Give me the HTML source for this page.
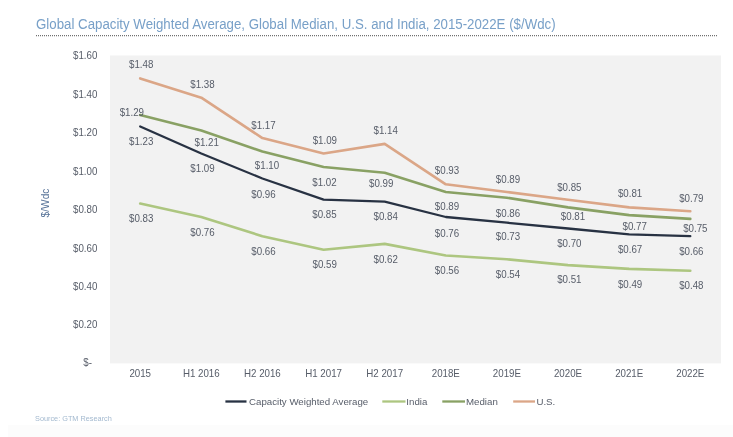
<!DOCTYPE html>
<html><head><meta charset="utf-8"><style>
html,body{margin:0;padding:0;background:#fff;width:733px;height:437px;overflow:hidden}
svg{display:block;will-change:transform;font-family:"Liberation Sans",sans-serif}
</style></head><body>
<svg width="733" height="437" viewBox="0 0 733 437">
<rect x="8" y="425" width="725" height="12" fill="#fcfcfc"/>
<rect x="110" y="55.5" width="611" height="307.9" fill="#f2f2f2"/>
<polyline points="140.2,203.5 201.3,217.0 262.4,236.2 323.6,249.7 384.7,243.9 445.8,255.5 506.9,259.3 568.0,265.1 629.2,268.9 690.3,270.8" fill="none" stroke="#adc680" stroke-width="2.6" stroke-linejoin="round" stroke-linecap="round"/>
<polyline points="140.2,115.0 201.3,130.4 262.4,151.6 323.6,167.0 384.7,172.7 445.8,192.0 506.9,197.7 568.0,207.4 629.2,215.1 690.3,218.9" fill="none" stroke="#89a164" stroke-width="2.6" stroke-linejoin="round" stroke-linecap="round"/>
<polyline points="140.2,78.4 201.3,97.7 262.4,138.1 323.6,153.5 384.7,143.9 445.8,184.3 506.9,192.0 568.0,199.7 629.2,207.4 690.3,211.2" fill="none" stroke="#dba687" stroke-width="2.6" stroke-linejoin="round" stroke-linecap="round"/>
<polyline points="140.2,126.5 201.3,153.5 262.4,178.5 323.6,199.7 384.7,201.6 445.8,217.0 506.9,222.7 568.0,228.5 629.2,234.3 690.3,236.2" fill="none" stroke="#283243" stroke-width="2.3" stroke-linejoin="round" stroke-linecap="round"/>
<g font-size="10.1" fill="#575d69">
<text transform="translate(141.2,67.6) scale(0.965,1)" text-anchor="middle">$1.48</text>
<text transform="translate(202.4,87.5) scale(0.965,1)" text-anchor="middle">$1.38</text>
<text transform="translate(263.4,128.5) scale(0.965,1)" text-anchor="middle">$1.17</text>
<text transform="translate(324.8,144.0) scale(0.965,1)" text-anchor="middle">$1.09</text>
<text transform="translate(385.7,134.2) scale(0.965,1)" text-anchor="middle">$1.14</text>
<text transform="translate(447.0,173.8) scale(0.965,1)" text-anchor="middle">$0.93</text>
<text transform="translate(508.0,182.6) scale(0.965,1)" text-anchor="middle">$0.89</text>
<text transform="translate(569.3,190.6) scale(0.965,1)" text-anchor="middle">$0.85</text>
<text transform="translate(630.1,196.5) scale(0.965,1)" text-anchor="middle">$0.81</text>
<text transform="translate(691.3,201.7) scale(0.965,1)" text-anchor="middle">$0.79</text>
<text transform="translate(131.8,116.1) scale(0.965,1)" text-anchor="middle">$1.29</text>
<text transform="translate(206.7,146.3) scale(0.965,1)" text-anchor="middle">$1.21</text>
<text transform="translate(267.0,169.2) scale(0.965,1)" text-anchor="middle">$1.10</text>
<text transform="translate(324.4,186.4) scale(0.965,1)" text-anchor="middle">$1.02</text>
<text transform="translate(381.2,186.8) scale(0.965,1)" text-anchor="middle">$0.99</text>
<text transform="translate(447.0,210.3) scale(0.965,1)" text-anchor="middle">$0.89</text>
<text transform="translate(508.0,216.5) scale(0.965,1)" text-anchor="middle">$0.86</text>
<text transform="translate(573.0,220.4) scale(0.965,1)" text-anchor="middle">$0.81</text>
<text transform="translate(634.7,229.7) scale(0.965,1)" text-anchor="middle">$0.77</text>
<text transform="translate(695.3,231.5) scale(0.965,1)" text-anchor="middle">$0.75</text>
<text transform="translate(141.2,145.4) scale(0.965,1)" text-anchor="middle">$1.23</text>
<text transform="translate(202.5,171.7) scale(0.965,1)" text-anchor="middle">$1.09</text>
<text transform="translate(263.4,197.8) scale(0.965,1)" text-anchor="middle">$0.96</text>
<text transform="translate(324.4,218.0) scale(0.965,1)" text-anchor="middle">$0.85</text>
<text transform="translate(385.7,219.5) scale(0.965,1)" text-anchor="middle">$0.84</text>
<text transform="translate(447.0,236.6) scale(0.965,1)" text-anchor="middle">$0.76</text>
<text transform="translate(508.0,240.3) scale(0.965,1)" text-anchor="middle">$0.73</text>
<text transform="translate(569.3,247.4) scale(0.965,1)" text-anchor="middle">$0.70</text>
<text transform="translate(630.1,252.6) scale(0.965,1)" text-anchor="middle">$0.67</text>
<text transform="translate(691.3,254.8) scale(0.965,1)" text-anchor="middle">$0.66</text>
<text transform="translate(141.2,221.6) scale(0.965,1)" text-anchor="middle">$0.83</text>
<text transform="translate(202.5,235.8) scale(0.965,1)" text-anchor="middle">$0.76</text>
<text transform="translate(263.4,254.6) scale(0.965,1)" text-anchor="middle">$0.66</text>
<text transform="translate(324.7,267.7) scale(0.965,1)" text-anchor="middle">$0.59</text>
<text transform="translate(385.7,262.9) scale(0.965,1)" text-anchor="middle">$0.62</text>
<text transform="translate(447.0,274.4) scale(0.965,1)" text-anchor="middle">$0.56</text>
<text transform="translate(508.0,277.5) scale(0.965,1)" text-anchor="middle">$0.54</text>
<text transform="translate(569.3,283.2) scale(0.965,1)" text-anchor="middle">$0.51</text>
<text transform="translate(630.1,287.5) scale(0.965,1)" text-anchor="middle">$0.49</text>
<text transform="translate(691.3,289.1) scale(0.965,1)" text-anchor="middle">$0.48</text>
</g>
<g font-size="10.1" fill="#575d69"><text transform="translate(92.0,365.7) scale(0.965,1)" text-anchor="end">$-</text>
<text transform="translate(97.4,328.4) scale(0.965,1)" text-anchor="end">$0.20</text>
<text transform="translate(97.4,289.9) scale(0.965,1)" text-anchor="end">$0.40</text>
<text transform="translate(97.4,251.5) scale(0.965,1)" text-anchor="end">$0.60</text>
<text transform="translate(97.4,213.0) scale(0.965,1)" text-anchor="end">$0.80</text>
<text transform="translate(97.4,174.5) scale(0.965,1)" text-anchor="end">$1.00</text>
<text transform="translate(97.4,136.0) scale(0.965,1)" text-anchor="end">$1.20</text>
<text transform="translate(97.4,97.5) scale(0.965,1)" text-anchor="end">$1.40</text>
<text transform="translate(97.4,59.1) scale(0.965,1)" text-anchor="end">$1.60</text></g>
<g font-size="10.1" fill="#575d69"><text transform="translate(140.2,377.3) scale(0.965,1)" text-anchor="middle">2015</text>
<text transform="translate(201.3,377.3) scale(0.965,1)" text-anchor="middle">H1 2016</text>
<text transform="translate(262.4,377.3) scale(0.965,1)" text-anchor="middle">H2 2016</text>
<text transform="translate(323.6,377.3) scale(0.965,1)" text-anchor="middle">H1 2017</text>
<text transform="translate(384.7,377.3) scale(0.965,1)" text-anchor="middle">H2 2017</text>
<text transform="translate(445.8,377.3) scale(0.965,1)" text-anchor="middle">2018E</text>
<text transform="translate(506.9,377.3) scale(0.965,1)" text-anchor="middle">2019E</text>
<text transform="translate(568.0,377.3) scale(0.965,1)" text-anchor="middle">2020E</text>
<text transform="translate(629.2,377.3) scale(0.965,1)" text-anchor="middle">2021E</text>
<text transform="translate(690.3,377.3) scale(0.965,1)" text-anchor="middle">2022E</text></g>
<text transform="translate(49.2,203) rotate(-90)" text-anchor="middle" font-size="10.2" fill="#587499">$/Wdc</text>
<text transform="translate(36,28.5) scale(0.95,1)" font-size="13.98" fill="#78a0c8">Global Capacity Weighted Average, Global Median, U.S. and India, 2015-2022E ($/Wdc)</text>
<line x1="36" y1="35.6" x2="717.5" y2="35.6" stroke="#707070" stroke-width="1.1" stroke-dasharray="1 1"/>
<line x1="225.4" y1="401.5" x2="246.5" y2="401.5" stroke="#283243" stroke-width="2.3"/>
<text x="249" y="404.7" font-size="9.7" fill="#575d69">Capacity Weighted Average</text>
<line x1="382.3" y1="401.5" x2="405.5" y2="401.5" stroke="#adc680" stroke-width="2.3"/>
<text x="406.3" y="404.7" font-size="9.7" fill="#575d69">India</text>
<line x1="442.3" y1="401.5" x2="465" y2="401.5" stroke="#89a164" stroke-width="2.3"/>
<text x="466" y="404.7" font-size="9.7" fill="#575d69">Median</text>
<line x1="513.2" y1="401.5" x2="535" y2="401.5" stroke="#dba687" stroke-width="2.3"/>
<text x="536.4" y="404.7" font-size="9.7" fill="#575d69">U.S.</text>
<text transform="translate(35.0,420.9) scale(0.94,1)" font-size="7.8" fill="#a3b9cf">Source: GTM Research</text>
</svg>
</body></html>
